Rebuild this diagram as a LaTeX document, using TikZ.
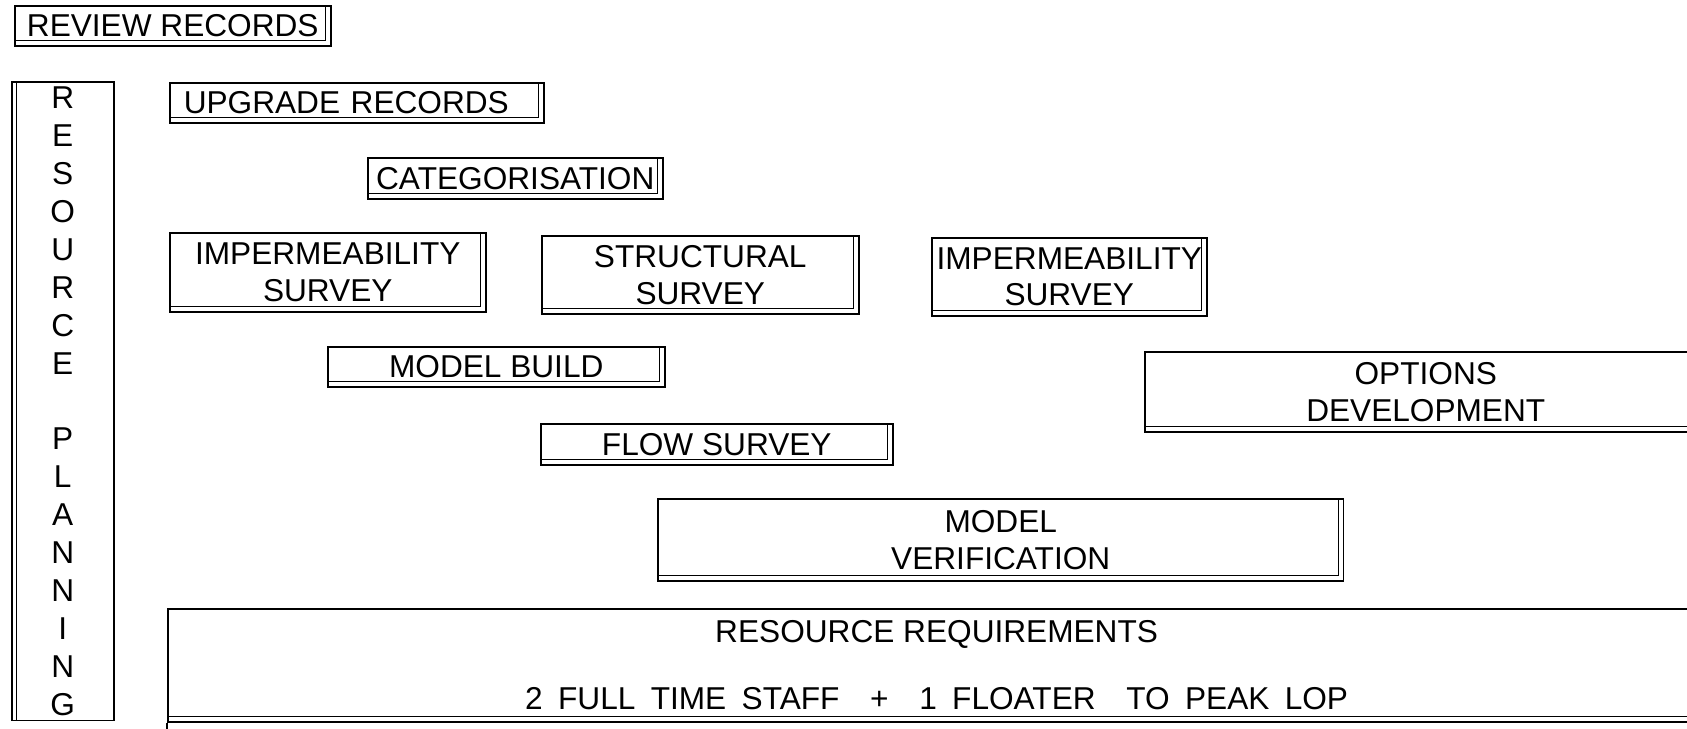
\documentclass[tikz,border=0pt]{standalone}
\usepackage{fontspec}
\setmainfont{Liberation Sans}
\usetikzlibrary{positioning}

% plain task box with a second rule along the right and bottom edges
\tikzset{
  taskbox/.style={draw, line width=0.9pt, inner sep=0pt,
    align=center, anchor=north west,
    font=\fontsize{18}{21}\selectfont,
    path picture={
      \draw[line width=0.6pt]
        ([xshift=-2.8pt]path picture bounding box.north east) --
        ([shift={(-2.8pt,2.8pt)}]path picture bounding box.south east) --
        ([yshift=2.8pt]path picture bounding box.south west);
    }},
  sidebox/.style={draw, line width=0.9pt, inner sep=0pt,
    align=center, anchor=north west,
    font=\fontsize{18}{21.6}\selectfont,
    path picture={
      \draw[line width=0.6pt]
        ([xshift=2.8pt]path picture bounding box.north west) --
        ([xshift=2.8pt]path picture bounding box.south west);
    }},
}

\begin{document}
\begin{tikzpicture}[x=0.02cm, y=-0.02cm]
  \useasboundingbox (0,0) rectangle (1687,729);
  \clip (0,0) rectangle (1687,729);

  \node[taskbox, minimum width=6.32cm, minimum height=0.80cm]
    (review) at (14,5) {REVIEW RECORDS};

  \node[sidebox, minimum width=2.04cm, minimum height=12.78cm]
    (planning) at (11,81)
    {R\\E\\S\\O\\U\\R\\C\\E\\[21.6pt]P\\L\\A\\N\\N\\I\\N\\G};

  \node[taskbox, minimum height=0.80cm,
        text width=6.92cm, inner xsep=0.28cm, align=left]
    (upgrade) at (169,82) {UPGRADE RECORDS};

  \node[taskbox, minimum width=5.90cm, minimum height=0.82cm]
    (categ) at (367,157) {CATEGORISATION};

  % survey row
  \node[taskbox, minimum width=6.32cm, minimum height=1.58cm]
    (impA) at (169,232) {IMPERMEABILITY\\SURVEY};
  \node[taskbox, minimum width=6.34cm, minimum height=1.56cm]
    (struct) at (541,235) {STRUCTURAL\\SURVEY};
  \node[taskbox, minimum width=5.50cm, minimum height=1.56cm]
    (impB) at (931,237) {IMPERMEABILITY\\SURVEY};

  \node[taskbox, minimum width=6.74cm, minimum height=0.80cm]
    (build) at (327,346) {MODEL BUILD};
  \node[taskbox, minimum width=11.24cm, minimum height=1.60cm]
    (options) at (1144,351) {OPTIONS\\DEVELOPMENT};

  \node[taskbox, minimum width=7.04cm, minimum height=0.82cm]
    (flow) at (540,423) {FLOW SURVEY};

  \node[taskbox, minimum width=13.72cm, minimum height=1.64cm]
    (verif) at (657,498) {MODEL\\VERIFICATION};

  \node[taskbox, minimum width=30.76cm, minimum height=2.26cm]
    (req) at (167,608)
    {RESOURCE REQUIREMENTS\\[17pt]
     \makebox[16.46cm][s]{2 FULL TIME STAFF\ \ +\ \ 1 FLOATER\ \ TO PEAK LOP}};
  \coordinate (reqend) at ([yshift=-1cm]req.south west);
  \draw[line width=0.9pt] (req.south west) -- (reqend);
\end{tikzpicture}
\end{document}
